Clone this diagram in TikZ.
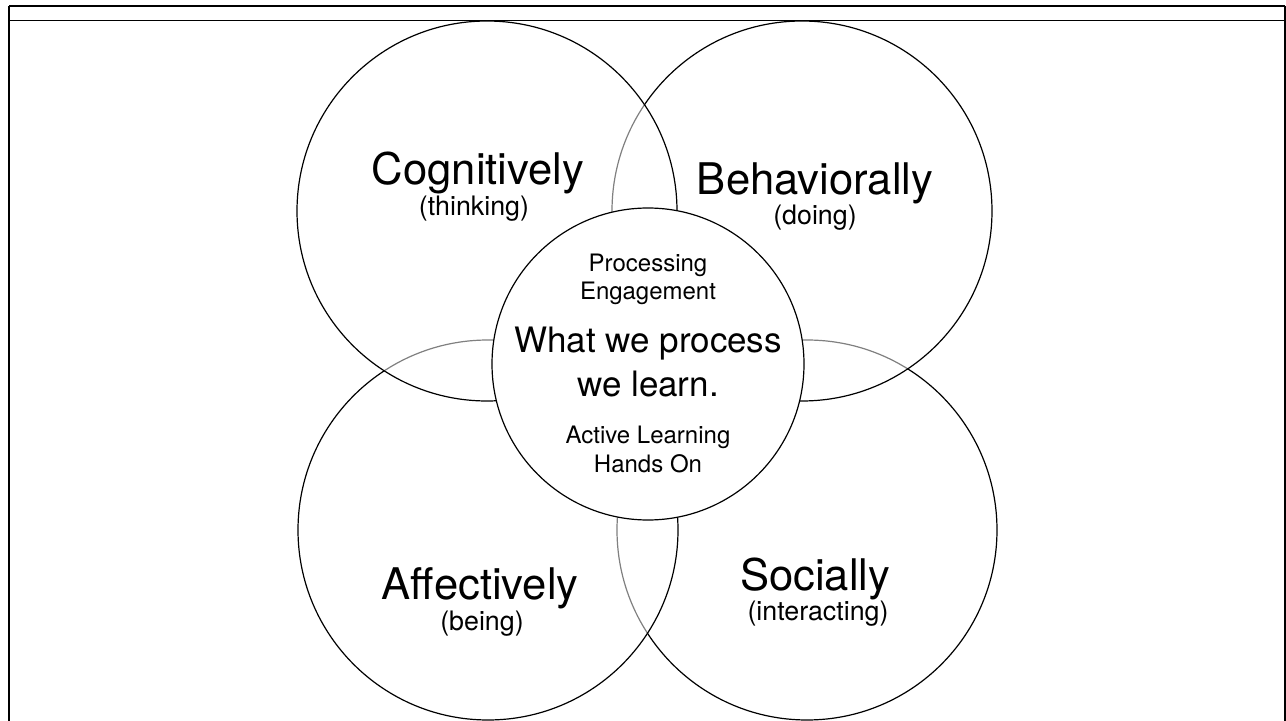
\documentclass[tikz,border=0pt]{standalone}
\usepackage{fontspec}
\setmainfont{TeX Gyre Heros}
\usepackage{tikz}

\begin{document}
\begin{tikzpicture}
  [
    x=0.5pt, y=-0.5pt,
    Ring/.style={circle, draw=black, line width=0.6pt, fill=white, fill opacity=0.5, minimum size=190pt, inner sep=0pt},
    Core/.style={circle, draw=black, line width=0.6pt, fill=white, minimum size=156pt, inner sep=0pt},
    Big/.style={anchor=base, font=\fontsize{21.8}{26}\selectfont},
    Small/.style={anchor=base, font=\fontsize{13.4}{16}\selectfont},
    Main/.style={anchor=base, font=\fontsize{17.5}{21}\selectfont},
    Note/.style={anchor=base, font=\fontsize{12}{14}\selectfont}
  ]
  \useasboundingbox (0,0) rectangle (1286,721);
  % Frame
  \draw[line width=1pt] (9,6) -- (1285,6);
  \draw[line width=0.6pt] (9,20.7) -- (1285,20.7);
  \draw[line width=1.4pt] (9,6) -- (9,721);
  \draw[line width=0.8pt] (1285,6) -- (1285,721);
  % Circles
  \node[Ring] (soc) at(807, 530) {};
  \node[Ring] (beh) at(802, 211) {};
  \node[Ring] (aff) at(488, 530) {};
  \node[Ring] (cog) at(487, 211) {};
  \node[Core] (core) at(648, 364) {};
  % Labels
  \node[Big] (cogT) at(478, 185) {Cognitively};
  \node[Small] (cogS) at(474, 216) {(thinking)};
  \node[Big] (behT) at(815, 195) {Behaviorally};
  \node[Small] (behS) at(815, 225) {(doing)};
  \node[Big] (affT) at(480, 600) {Affectively};
  \node[Small] (affS) at(482, 631) {(being)};
  \node[Big] (socT) at(815, 590) {Socially};
  \node[Small] (socS) at(818, 621) {(interacting)};
  \node[Note] (proc) at(648, 272) {Processing};
  \node[Note] (eng) at(648, 300) {Engagement};
  \node[Main] (what) at(648, 353) {What we process};
  \node[Main] (learn) at(648, 397) {we learn.};
  \node[Note] (act) at(648, 444) {Active Learning};
  \node[Note] (hands) at(648, 473) {Hands On};
\end{tikzpicture}
\end{document}
